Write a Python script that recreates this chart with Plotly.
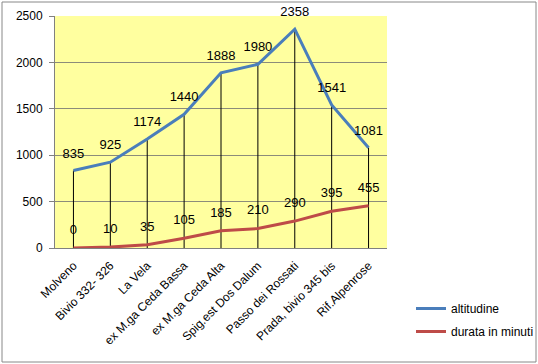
import plotly.graph_objects as go

categories = ["Molveno", "Bivio 332- 326", "La Vela", "ex M.ga Ceda Bassa", "ex M.ga Ceda Alta",
              "Spig.est Dos Dalum", "Passo dei Rossati", "Prada, bivio 345 bis", "Rif.Alpenrose"]
altitudine = [835, 925, 1174, 1440, 1888, 1980, 2358, 1541, 1081]
durata = [0, 10, 35, 105, 185, 210, 290, 395, 455]
y_ticks = [0, 500, 1000, 1500, 2000, 2500]

W, H = 538, 364
L, R, T, B = 55, 151, 16, 116

fig = go.Figure()
# drop lines
fig.add_trace(go.Scatter(
    x=categories, y=altitudine, mode="markers", marker=dict(size=1, opacity=0),
    showlegend=False, hoverinfo="skip",
    error_y=dict(type="data", symmetric=False, array=[0] * len(altitudine),
                 arrayminus=altitudine, color="black", thickness=1, width=0)))
fig.add_trace(go.Scatter(
    x=categories, y=altitudine, name="altitudine", mode="lines", legendgroup="a",
    line=dict(color="#4A7EBB", width=3)))
fig.add_trace(go.Scatter(
    x=categories, y=durata, name="durata in minuti", mode="lines", legendgroup="b",
    line=dict(color="#BE4B48", width=3)))
# data labels
fig.add_trace(go.Scatter(
    x=categories, y=altitudine, mode="markers+text", marker=dict(size=14, opacity=0),
    text=[str(v) for v in altitudine], textposition="top center", cliponaxis=False,
    textfont=dict(size=13, color="black"), showlegend=False, hoverinfo="skip"))
fig.add_trace(go.Scatter(
    x=categories, y=durata, mode="markers+text", marker=dict(size=16, opacity=0),
    text=[str(v) for v in durata], textposition="top center", cliponaxis=False,
    textfont=dict(size=13, color="black"), showlegend=False, hoverinfo="skip"))

pw = W - L - R
ph = H - T - B
fig.add_shape(type="rect", xref="paper", yref="paper",
              x0=(2 - L) / pw, x1=(536 - L) / pw,
              y0=(H - B - 362) / ph, y1=(H - B - 2) / ph,
              line=dict(color="#888888", width=1), fillcolor="rgba(0,0,0,0)", layer="below")

fig.update_layout(
    width=W, height=H, margin=dict(l=L, r=R, t=T, b=B, autoexpand=False),
    paper_bgcolor="white", plot_bgcolor="#FFFF9F",
    font=dict(family="Liberation Sans", size=12, color="black"),
    legend=dict(x=(411 - L) / pw, y=(H - B - 294) / ph, xanchor="left", yanchor="top",
                font=dict(size=12), bgcolor="rgba(0,0,0,0)", tracegroupgap=4),
    showlegend=True,
)
fig.update_xaxes(type="category", tickangle=-45, showgrid=False, showline=True,
                 linecolor="#808080", ticks="", tickfont=dict(size=12), automargin=False,
                 ticklabelstandoff=5, range=[-0.5, len(categories) - 0.5])
fig.update_yaxes(range=[0, 2500], tickvals=y_ticks, showgrid=True, gridcolor="#8C8C7A",
                 gridwidth=1, showline=True, linecolor="#808080", ticks="outside",
                 ticklen=5, tickcolor="#808080", zeroline=False, tickfont=dict(size=12),
                 ticklabelstandoff=4, automargin=False)

fig.write_html("out.html", config={"displayModeBar": False},
               post_script="document.body.style.margin='0px';document.body.style.overflow='hidden';")
